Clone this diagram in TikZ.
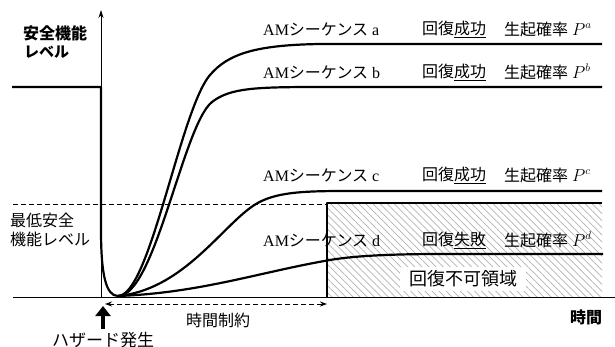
\documentclass[tikz,border=0pt]{standalone}
\usepackage{fontspec}
\setmainfont{Liberation Serif}
\newfontfamily\cjk{Noto Sans CJK JP}
\usetikzlibrary{patterns.meta,arrows.meta}
\begin{document}
\begin{tikzpicture}[x=1pt,y=-1pt,
  curve/.style={line width=2.2pt, line join=round},
  axis/.style={line width=0.8pt},
  lbl/.style={font=\fontsize{16}{18}\selectfont, inner sep=0pt, anchor=west},
  jp/.style={font=\fontsize{16}{18}\selectfont\cjk, inner sep=0pt}]
\useasboundingbox (0,0) rectangle (615,347);
% hatched region
\fill[pattern={Lines[angle=-45,distance=5pt,line width=0.7pt]}, pattern color=gray!60] (327,203) rectangle (602,297);
\node[fill=white, inner xsep=9pt, inner ysep=4pt, font=\fontsize{18}{20}\selectfont\cjk] (region) at (463,279) {回復不可領域};
% axes
\coordinate (xs) at (13,297);
\coordinate (xe) at (615,297);
\coordinate (o) at (101,297);
\coordinate (ytop) at (101,10);
\draw[axis] (xs) -- (xe);
\draw[axis, -{Stealth[length=8pt,width=5pt]}] (o) -- (ytop);
% minimum level
\coordinate (ms) at (13,204);
\coordinate (me) at (327,204);
\draw[line width=0.9pt, dash pattern=on 5pt off 3pt] (ms) -- (me);
\coordinate (rb) at (327,297);
\coordinate (rt) at (327,203);
\coordinate (re) at (602,203);
\draw[curve] (rb) -- (rt) -- (re);
% initial level and drop
\coordinate (s0) at (12,87);
\coordinate (s1) at (101,87);
\coordinate (mn) at (118,296);
\draw[curve] (s0) -- (s1) -- (101,230) .. controls (101,275) and (106,296) .. (mn);
% sequences
\draw[curve] (mn) .. controls (150,296) and (180,110) .. (210,75) .. controls (228,54) and (255,45) .. (320,44) -- (602,44);
\draw[curve] (mn) .. controls (155,296) and (183,125) .. (212,102) .. controls (230,88) and (255,87) .. (320,87) -- (602,87);
\draw[curve] (mn) .. controls (180,290) and (218,232) .. (250,208) .. controls (270,193) and (295,191) .. (345,191) -- (602,191);
\draw[curve] (mn) .. controls (200,293) and (260,272) .. (330,260) .. controls (365,254) and (420,254) .. (450,254) -- (603,254);
% sequence labels
\node[lbl] (sa) at (263,29) {AM{\cjk シーケンス} a};
\node[lbl] (ra) at (422,29) {\cjk 回復\underline{成功}};
\node[lbl] (pa) at (504,29) {{\cjk 生起確率} $P^{a}$};
\node[lbl] (sb) at (263,72) {AM{\cjk シーケンス} b};
\node[lbl] (rb2) at (422,72) {\cjk 回復\underline{成功}};
\node[lbl] (pb) at (504,72) {{\cjk 生起確率} $P^{b}$};
\node[lbl] (sc) at (263,175) {AM{\cjk シーケンス} c};
\node[lbl] (rc) at (422,175) {\cjk 回復\underline{成功}};
\node[lbl] (pc) at (504,175) {{\cjk 生起確率} $P^{c}$};
\node[lbl] (sd) at (263,240) {AM{\cjk シーケンス} d};
\node[lbl] (rd) at (422,240) {\cjk 回復\underline{失敗}};
\node[lbl] (pd) at (504,240) {{\cjk 生起確率} $P^{d}$};
% axis labels
\node[lbl, font=\fontsize{16}{18}\selectfont\cjk\bfseries] (yl1) at (23,33) {安全機能};
\node[lbl, font=\fontsize{15}{18}\selectfont\cjk\bfseries] (yl2) at (24,52) {レベル};
\node[lbl, font=\fontsize{16}{18}\selectfont\cjk] (ml1) at (10,220) {最低安全};
\node[lbl, font=\fontsize{16}{18}\selectfont\cjk] (ml2) at (10,239) {機能レベル};
\node[jp, font=\fontsize{16}{18}\selectfont\cjk\bfseries] (xl) at (586,317) {時間};
% time constraint
\coordinate (tc1) at (105,304);
\coordinate (tc2) at (327,304);
\draw[line width=0.9pt, dash pattern=on 5pt off 3pt, {Stealth[length=7pt,width=5pt]}-{Stealth[length=7pt,width=5pt]}] (tc1) -- (tc2);
\node[jp] (tcl) at (218,320) {時間制約};
% hazard
\coordinate (hz1) at (103,329);
\coordinate (hz2) at (103,306);
\draw[line width=4pt, -{Triangle[length=10pt,width=15pt]}] (hz1) -- (hz2);
\node[jp, font=\fontsize{17}{18}\selectfont\cjk] (hzl) at (103,340) {ハザード発生};
\end{tikzpicture}
\end{document}
